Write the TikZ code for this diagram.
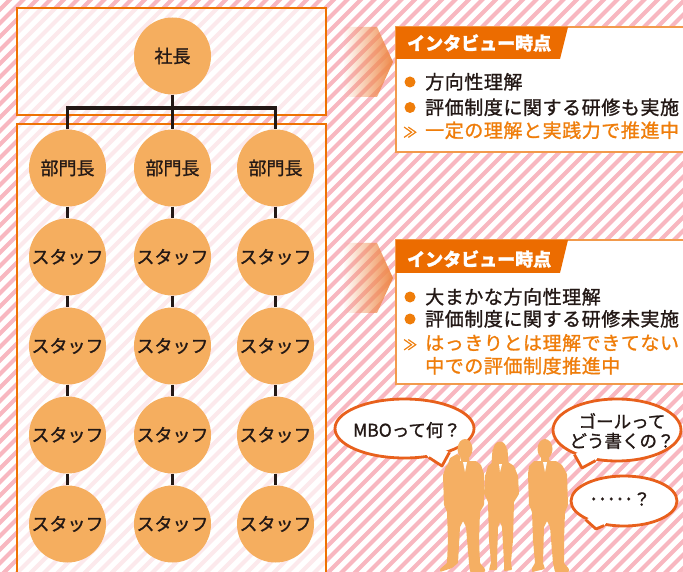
\documentclass[tikz,border=0pt]{standalone}
\usepackage{fontspec}
\setmainfont{Noto Sans CJK JP}[FakeBold=1.2]
\newfontfamily\notefont{Noto Sans CJK JP}[LetterSpace=3,FakeBold=1.2]
\usetikzlibrary{shapes.geometric,fadings}

\definecolor{stripepink}{HTML}{F8B7C0}
\definecolor{frameor}{HTML}{EE7203}
\definecolor{discfill}{HTML}{F5AE5F}
\definecolor{inkdark}{HTML}{231815}
\definecolor{tabor}{HTML}{EC6C00}
\definecolor{calloutline}{HTML}{F29A4C}
\definecolor{accentor}{HTML}{EF7D0A}
\definecolor{arrowor}{HTML}{EF8A4A}
\definecolor{bubbleline}{HTML}{E8601C}
\definecolor{personor}{HTML}{F5AF63}

\tikzfading[name=arrowfade, left color=transparent!100, right color=transparent!0]

\tikzset{
  stripe/.style={draw=stripepink, line width=4.2pt},
  orgframe/.style={draw=frameor, line width=2pt, fill=white, fill opacity=0.7},
  disc/.style={circle, fill=discfill, minimum size=77pt, inner sep=0pt,
    text=inkdark, font=\fontsize{18}{18}\selectfont},
  link/.style={draw=inkdark, line width=3.3pt},
  notebox/.style={draw=calloutline, line width=1.6pt, fill=white},
  pointer/.style={fill=arrowor, path fading=arrowfade},
  tabtext/.style={anchor=base west, inner sep=0pt, text=white,
    font=\fontsize{18}{18}\selectfont\bfseries},
  noteline/.style={anchor=base west, inner sep=0pt, text=inkdark,
    font=\notefont\fontsize{19}{19}\selectfont},
  noteaccent/.style={noteline, text=accentor},
  chevrons/.style={anchor=base west, inner sep=0pt, text=accentor,
    font=\fontsize{14}{14}\selectfont},
  bulletdot/.style={circle, fill=accentor, minimum size=11pt, inner sep=0pt},
  bubble/.style={ellipse, draw=bubbleline, line width=2.8pt, fill=white, inner sep=0pt},
  tailline/.style={draw=bubbleline, line width=2.8pt, line join=round},
  bubbletext/.style={inner sep=0pt, text=inkdark, align=center,
    font=\fontsize{17.5}{19.5}\selectfont},
  personfill/.style={fill=personor, rounded corners=0.8pt},
}

\begin{document}
\begin{tikzpicture}[x=1pt,y=-1pt]
\useasboundingbox (0,0) rectangle (683,572);
\clip (0,0) rectangle (683,572);

% striped backdrop
\fill[white] (0,0) rectangle (683,572);
\foreach \c in {-4,9.5,...,1270}
  \draw[stripe] (\c-600,600) -- (\c+10,-10);

% org chart frames
\draw[orgframe] (17,8) rectangle (326,115);
\draw[orgframe] (17,124) rectangle (326,600);

% org chart members
\node[disc] (pres) at (172.5,56) {社長};
\foreach \col/\x in {1/67.5,2/172.5,3/275.5}{
  \node[disc] (b\col) at (\x,168) {部門長};
  \foreach \row/\y in {1/257,2/346,3/435,4/524}
    \node[disc] (s\col\row) at (\x,\y) {スタッフ};
}

% reporting lines
\coordinate (bus) at (172.5,108);
\draw[link] (pres) -- (b2);
\draw[link] (b1) -- (b1 |- bus) -- (b3 |- bus) -- (b3);
\foreach \col in {1,2,3}{
  \draw[link] (b\col) -- (s\col1);
  \draw[link] (s\col1) -- (s\col2);
  \draw[link] (s\col2) -- (s\col3);
  \draw[link] (s\col3) -- (s\col4);
}

% first interview note
\fill[pointer] (343,27) -- (377,27) -- (393,62) -- (377,97) -- (343,97) -- cycle;
\draw[notebox] (396,27) rectangle (700,152);
\fill[tabor] (396,27) -- (568,27) -- (560,59) -- (396,59) -- cycle;
\node[tabtext] (tabA) at (407,50) {インタビュー時点};
\node[bulletdot] (dA1) at (410,82) {};
\node[noteline] (nA1) at (425,89) {方向性理解};
\node[bulletdot] (dA2) at (410,107.5) {};
\node[noteline] (nA2) at (425,114.5) {評価制度に関する研修も実施};
\node[chevrons] (cA) at (403,137.5) {≫};
\node[noteaccent] (nA3) at (425,137.5) {一定の理解と実践力で推進中};

% second interview note
\fill[pointer] (343,243) -- (377,243) -- (393,278) -- (377,313) -- (343,313) -- cycle;
\draw[notebox] (396,240) rectangle (700,384);
\fill[tabor] (396,240) -- (568,240) -- (560,273) -- (396,273) -- cycle;
\node[tabtext] (tabB) at (407,266) {インタビュー時点};
\node[bulletdot] (dB1) at (410,297) {};
\node[noteline] (nB1) at (425,304) {大まかな方向性理解};
\node[bulletdot] (dB2) at (410,319) {};
\node[noteline] (nB2) at (425,326) {評価制度に関する研修未実施};
\node[chevrons] (cB) at (403,350) {≫};
\node[noteaccent] (nB3) at (425,350) {はっきりとは理解できてない};
\node[noteaccent] (nB4) at (425,373) {中での評価制度推進中};

% speech bubbles
\node[bubble, minimum width=139pt, minimum height=59pt] (q1) at (404.5,428.5) {};
\coordinate (tip1) at (442,466);
\fill[white] (q1.center) -- (q1.-50) -- (tip1) -- (q1.-28) -- cycle;
\draw[tailline] (q1.-50) -- (tip1) -- (q1.-28);
\node[bubbletext] (t1) at (407,430) {MBOって何？};

\node[bubble, minimum width=128pt, minimum height=62pt] (q2) at (617,430) {};
\coordinate (tip2) at (582,468);
\fill[white] (q2.center) -- (q2.-150) -- (tip2) -- (q2.-125) -- cycle;
\draw[tailline] (q2.-150) -- (tip2) -- (q2.-125);
\node[bubbletext] (t2) at (622,431) {ゴールって\\どう書くの？};

\node[bubble, minimum width=106pt, minimum height=50pt] (q3) at (624,501) {};
\coordinate (tip3) at (596,529);
\fill[white] (q3.center) -- (q3.-154) -- (tip3) -- (q3.-129) -- cycle;
\draw[tailline] (q3.-154) -- (tip3) -- (q3.-129);
\node[bubbletext] (t3) at (620,499) {･････？};

% three colleagues
% left man, hand at chin
\fill[personfill] (465,449) ellipse [x radius=7.5, y radius=10];
\fill[personfill] (461,455) rectangle (469,463);
\fill[personfill] (454,461) -- (476,461) -- (481,465) -- (484,474) -- (484,505)
  -- (480,512) -- (479,540) -- (480,563) -- (485,569) -- (485,572) -- (470,572)
  -- (469,563) -- (466,527) -- (463,521) -- (460,527) -- (458,563) -- (452,568)
  -- (440,572) -- (440,569) -- (447,563) -- (448,540) -- (447,512) -- (444,505)
  -- (443,475) -- (446,466) -- cycle;
\fill[personfill] (443,478) -- (450,458) -- (457,454) -- (461,457) -- (459,464)
  -- (455,466) -- (451,482) -- cycle;
\fill[white] (463,462) -- (465,472) -- (467,462) -- cycle;
% woman
\fill[personfill] (500,451) ellipse [x radius=7, y radius=9.5];
\fill[personfill] (492.5,449) -- (491.5,464) -- (508.5,464) -- (507.5,449) -- cycle;
\fill[personfill] (493,462) -- (508,462) -- (514,466) -- (518,476) -- (519,494)
  -- (514,502) -- (513,540) -- (511,562) -- (512,570) -- (504,571) -- (504,562)
  -- (502,527) -- (500,522) -- (498,527) -- (497,562) -- (497,570) -- (489,570)
  -- (491,562) -- (489,540) -- (488,502) -- (484,494) -- (485,476) -- (488,466) -- cycle;
\fill[personfill] (497,470) -- (503,458) -- (508,459) -- (507,464) -- (502,472) -- cycle;
\fill[white] (499,464) -- (500,472) -- (502,464) -- cycle;
% right man
\fill[personfill] (545,449) ellipse [x radius=7.5, y radius=10];
\fill[personfill] (541,455) rectangle (549,463);
\fill[personfill] (534,461) -- (556,461) -- (562,465) -- (567,474) -- (568,505)
  -- (565,512) -- (564,540) -- (564,563) -- (569,569) -- (569,572) -- (555,572)
  -- (553,563) -- (550,527) -- (547,521) -- (544,527) -- (543,563) -- (545,569)
  -- (532,572) -- (532,568) -- (535,563) -- (533,540) -- (532,512) -- (529,505)
  -- (528,474) -- (529,466) -- cycle;
\fill[personfill] (556,480) -- (552,463) -- (548,459) -- (545,462) -- (548,466) -- (550,482) -- cycle;
\fill[white] (543,462) -- (545,472) -- (547,462) -- cycle;
\end{tikzpicture}
\end{document}
